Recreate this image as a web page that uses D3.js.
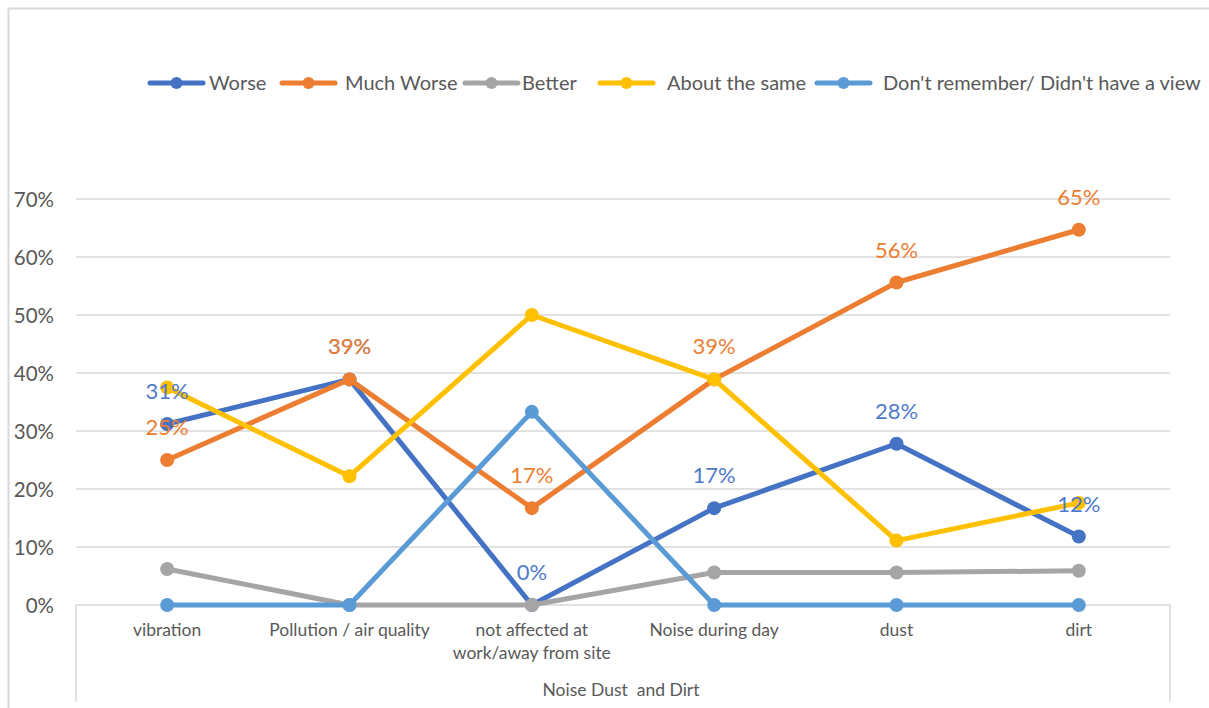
<!DOCTYPE html>
<html><head><meta charset="utf-8">
<script src="https://cdn.jsdelivr.net/npm/d3@7"></script>
<style>body{margin:0;background:#fff}svg{display:block}text{font-family:Lato,"Open Sans",sans-serif;white-space:pre}</style>
</head><body><svg id="c" width="1209" height="708"></svg>
<script>
const categories = ["vibration","Pollution / air quality","not affected at|work/away from site","Noise during day","dust","dirt"];
const seriesNames = ["Worse","Much Worse","Better","About the same","Don't remember/ Didn't have a view"];
const worse = [0.312, 0.389, 0, 0.167, 0.278, 0.118];
const muchWorse = [0.25, 0.389, 0.167, 0.389, 0.556, 0.647];
const better = [0.062, 0, 0, 0.056, 0.056, 0.059];
const aboutSame = [0.375, 0.222, 0.5, 0.389, 0.111, 0.176];
const dontRemember = [0, 0, 0.333, 0, 0, 0];
const yTicks = [0, 0.1, 0.2, 0.3, 0.4, 0.5, 0.6, 0.7];
const axisTitle = "Noise Dust  and Dirt";
const colors = ["#4472C4","#ED7D31","#A5A5A5","#FFC000","#5B9BD5"];
const labelled = [true, true, false, false, false];

const svg = d3.select("#c");
const series = [worse, muchWorse, better, aboutSame, dontRemember];
const x = d3.scaleBand().domain(categories).range([76, 1170]);
const y = d3.scaleLinear().domain([0, 0.7]).range([605, 199]);

// outer border
svg.append("path").attr("d","M8.5,708 V8.5 H1209").attr("fill","none").attr("stroke","#D9D9D9").attr("stroke-width",2);

// gridlines
svg.append("g").selectAll("line").data(yTicks.filter(d=>d>0)).join("line")
  .attr("x1",76).attr("x2",1170).attr("y1",d=>y(d)).attr("y2",d=>y(d))
  .attr("stroke","#D9D9D9").attr("stroke-width",1.5);

// y axis labels
const yAxis = d3.axisLeft(y).tickValues(yTicks).tickFormat(d3.format(".0%")).tickSize(0).tickPadding(0);
const gy = svg.append("g").attr("transform","translate(54,0)").call(yAxis);
gy.select(".domain").remove();
gy.selectAll("text").attr("fill","#595959").style("font-size","20.5px").style("font-family","Lato,sans-serif").attr("dy","0.35em");

// category axis box
svg.append("path").attr("d","M76,702 V605 H1170 V702").attr("fill","none").attr("stroke","#D9D9D9").attr("stroke-width",1.5);

// x labels
const gx = svg.append("g");
categories.forEach(c=>{
  const lines = c.split("|");
  const t = gx.append("text").attr("x", x(c)+x.bandwidth()/2).attr("y",636)
    .attr("text-anchor","middle").attr("fill","#595959").style("font-size","17.5px");
  lines.forEach((l,i)=>t.append("tspan").attr("x",x(c)+x.bandwidth()/2).attr("dy", i?23:0).text(l));
});
svg.append("text").attr("x",621).attr("y",696).attr("text-anchor","middle").attr("fill","#595959").style("font-size","17.5px").text(axisTitle);

const cx = c => x(c)+x.bandwidth()/2;
const line = d3.line().x((d,i)=>cx(categories[i])).y(d=>y(d));

series.forEach((s,k)=>{
  const g = svg.append("g");
  g.append("path").attr("d", line(s)).attr("fill","none").attr("stroke",colors[k]).attr("stroke-width",5).attr("stroke-linejoin","round");
  g.selectAll("circle").data(s).join("circle").attr("cx",(d,i)=>cx(categories[i])).attr("cy",d=>y(d)).attr("r",7).attr("fill",colors[k]);
});

// data labels
series.forEach((s,k)=>{
  if(!labelled[k]) return;
  svg.append("g").selectAll("text").data(s).join("text")
    .attr("x",(d,i)=>cx(categories[i])).attr("y",d=>y(d)-25)
    .attr("text-anchor","middle").attr("fill", k===0 ? "#4F7ACB" : "#ED7D31")
    .style("font-size","22px").text(d=>d3.format(".0%")(d));
});

// legend
const legLine = [148, 280, 463, 598, 815];
const legText = [209, 345, 522, 667, 883];
const lg = svg.append("g");
seriesNames.forEach((n,k)=>{
  const g = lg.append("g").attr("transform",`translate(0,83)`);
  g.append("line").attr("x1",legLine[k]+2).attr("x2",legLine[k]+55).attr("stroke",colors[k]).attr("stroke-width",5).attr("stroke-linecap","round");
  g.append("circle").attr("cx",legLine[k]+28.5).attr("r",6).attr("fill",colors[k]);
  g.append("text").attr("x",legText[k]).attr("dy","0.35em").attr("fill","#595959").style("font-size","20px").text(n);
});
</script></body></html>
